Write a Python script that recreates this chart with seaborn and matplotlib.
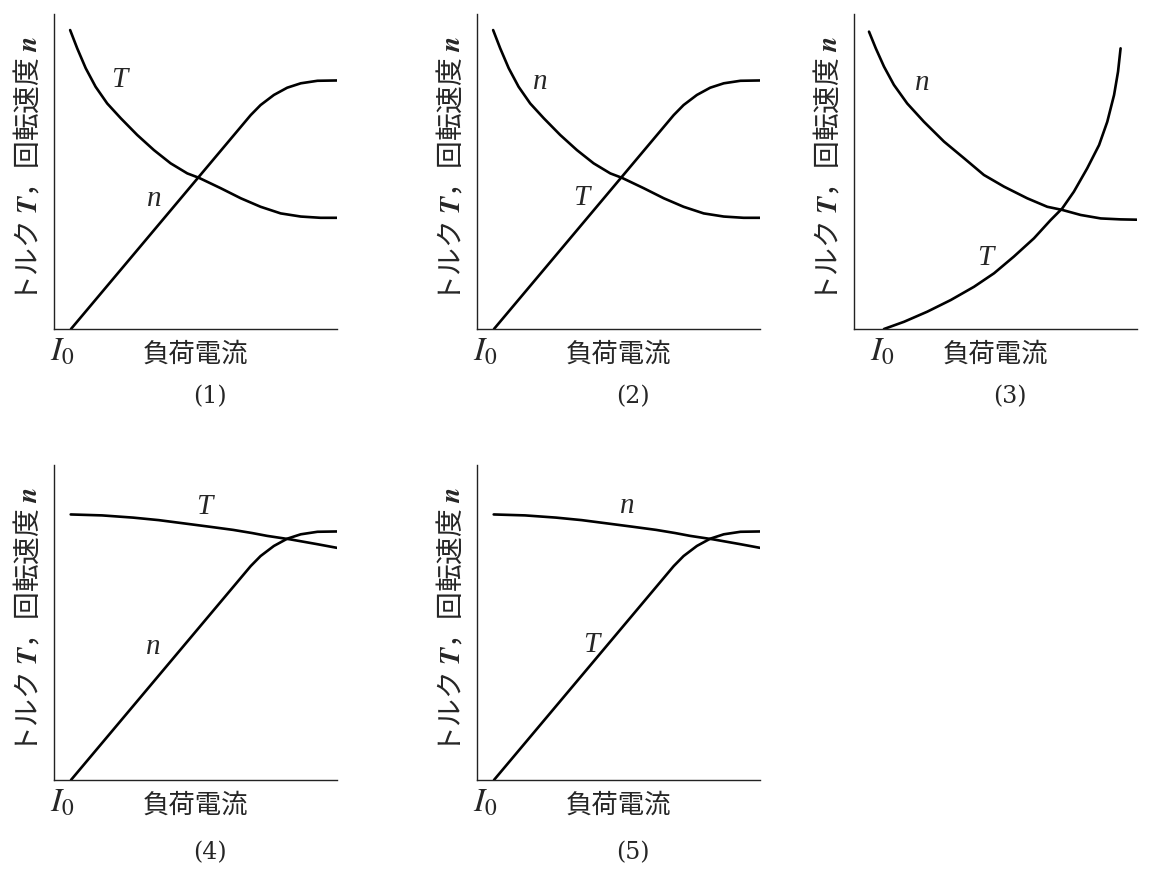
import numpy as np
import pandas as pd
import matplotlib
matplotlib.use("Agg")
import matplotlib.pyplot as plt
import seaborn as sns

# curvas (x: corrente de carga 0..10, y: 0..10)
queda_x = [0.57, 0.82, 1.12, 1.47, 1.88, 2.36, 2.94, 3.53, 4.12, 4.71, 5.12,
           5.89, 6.60, 7.30, 8.01, 8.72, 9.42, 10.0]
queda_y = [9.49, 8.91, 8.28, 7.69, 7.16, 6.69, 6.16, 5.68, 5.26, 4.94, 4.80,
           4.47, 4.15, 3.88, 3.67, 3.57, 3.53, 3.53]

subida_x = [0.60, 6.95, 7.30, 7.77, 8.24, 8.72, 9.31, 10.0]
subida_y = [0.00, 6.79, 7.11, 7.43, 7.66, 7.80, 7.88, 7.89]

p3_n_x = [0.53, 0.77, 1.06, 1.41, 1.88, 2.47, 3.18, 3.89, 4.59, 5.30, 6.12,
          6.83, 7.36, 8.01, 8.72, 9.42, 9.99]
p3_n_y = [9.44, 8.91, 8.33, 7.75, 7.16, 6.58, 5.95, 5.42, 4.89, 4.52, 4.15,
          3.88, 3.78, 3.62, 3.51, 3.48, 3.47]

p3_t_x = [1.06, 1.77, 2.59, 3.42, 4.24, 4.95, 5.65, 6.36, 6.95, 7.36, 7.77,
          8.24, 8.66, 8.95, 9.19, 9.33, 9.42]
p3_t_y = [0.00, 0.23, 0.55, 0.92, 1.34, 1.77, 2.30, 2.88, 3.46, 3.83, 4.36,
          5.10, 5.84, 6.58, 7.43, 8.17, 8.91]

plano_x = [0.59, 1.70, 2.79, 3.70, 4.56, 5.50, 6.33, 7.00, 7.53, 8.34, 9.28, 10.0]
plano_y = [8.43, 8.40, 8.33, 8.25, 8.15, 8.04, 7.94, 7.84, 7.75, 7.64, 7.49, 7.37]

paineis = ["(1)", "(2)", "(3)", "(4)", "(5)"]

sns.set_style("white")
plt.rcParams["font.family"] = ["Noto Sans CJK JP", "DejaVu Sans"]
plt.rcParams["mathtext.fontset"] = "stix"

fig = plt.figure(figsize=(11.52, 8.82), dpi=100)
W, H = 1152, 882
pos = [(54, 14), (477, 14), (854, 14), (54, 465), (477, 465)]
axes = []
for left, top in pos:
    ax = fig.add_axes([left / W, (H - top - 315) / H, 283 / W, 315 / H])
    axes.append(ax)

# (curva, rótulo, posição do rótulo)
conf = [
    [(queda_x, queda_y, "T", (2.32, 7.90)), (subida_x, subida_y, "n", (3.55, 4.12))],
    [(queda_x, queda_y, "n", (2.25, 7.85)), (subida_x, subida_y, "T", (3.68, 4.17))],
    [(p3_n_x, p3_n_y, "n", (2.41, 7.80)), (p3_t_x, p3_t_y, "T", (4.62, 2.26))],
    [(plano_x, plano_y, "T", (5.30, 8.68)), (subida_x, subida_y, "n", (3.51, 4.23))],
    [(plano_x, plano_y, "n", (5.30, 8.70)), (subida_x, subida_y, "T", (4.03, 4.29))],
]

serif = {"family": "Liberation Serif", "style": "italic"}

for i, ax in enumerate(axes):
    for xs, ys, lab, (lx, ly) in conf[i]:
        sns.lineplot(x=xs, y=ys, ax=ax, color="black", linewidth=1.9)
        ax.text(lx, ly, lab, fontdict=serif, fontsize=21, ha="center", va="center")
    ax.set_xlim(0, 10)
    ax.set_ylim(0, 10)
    ax.set_xticks([])
    ax.set_yticks([])
    for s in ["top", "right"]:
        ax.spines[s].set_visible(False)
    for s in ["left", "bottom"]:
        ax.spines[s].set_linewidth(1.0)
        ax.spines[s].set_color("#222222")

    i0x = 1.0 if i == 2 else 0.28
    ax.text(i0x, -0.7, "$I_0$", fontsize=24, ha="center", va="center", clip_on=False)
    ax.text(5.0, -0.8, "負荷電流", fontsize=19, ha="center", va="center", clip_on=False)
    ax.text(5.5, -2.15 if i < 3 else -2.32, paineis[i], family="DejaVu Serif",
            fontsize=17, ha="center", va="center", clip_on=False)
    ax.text(-0.88, 5.06, "トルク $\\boldsymbol{T}$，回転速度 $\\boldsymbol{n}$",
            rotation=90, fontsize=20, ha="center", va="center", clip_on=False)

fig.savefig("out.png", dpi=100, facecolor="white")
